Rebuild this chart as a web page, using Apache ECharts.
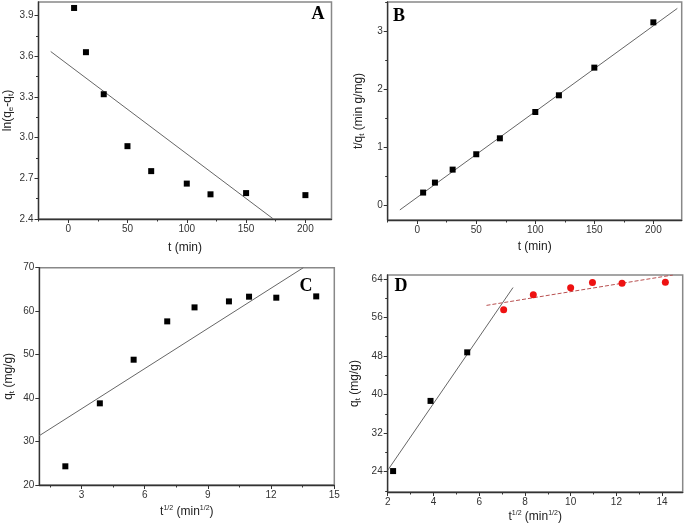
<!DOCTYPE html>
<html><head><meta charset="utf-8">
<script src="https://cdn.jsdelivr.net/npm/echarts@6/dist/echarts.min.js"></script>
<style>html,body{margin:0;padding:0;background:#fff}#c{width:685px;height:524px}</style>
</head><body><div id="c"></div>
<script>
// ---- Data ----
const timeMin = [5, 15, 30, 50, 70, 100, 120, 150, 200];
const lnQeQt = [3.956, 3.63, 3.32, 2.937, 2.753, 2.661, 2.582, 2.591, 2.576];
const fitA = [[-14.7, 3.635], [173, 2.4]];
const tOverQt = [0.213, 0.385, 0.609, 0.874, 1.149, 1.603, 1.891, 2.368, 3.149];
const fitB = [[-14.7, -0.086], [220.3, 3.39]];
const sqrtTime = [2.236, 3.873, 5.477, 7.071, 8.367, 10, 10.954, 12.247, 14.142];
const qtC = [24.3, 38.79, 48.83, 57.65, 60.87, 62.25, 63.33, 63.1, 63.4];
const fitC = [[1, 31.35], [13.53, 70]];
const sqrtTimeD1 = [2.236, 3.873, 5.477];
const qtD1 = [24.14, 38.69, 48.76];
const sqrtTimeD2 = [7.071, 8.367, 10, 10.954, 12.247, 14.142];
const qtD2 = [57.59, 60.69, 62.14, 63.24, 63.1, 63.31];
const fitD1 = [[2, 24.3], [7.48, 62.2]];
const fitD2 = [[6.32, 58.5], [14.47, 64.8]];

const ticksAx = [0, 50, 100, 150, 200], minorAx = [-25, 25, 75, 125, 175];
const ticksAy = [2.4, 2.7, 3.0, 3.3, 3.6, 3.9], minorAy = [2.55, 2.85, 3.15, 3.45, 3.75];
const ticksBx = [0, 50, 100, 150, 200], minorBx = [-25, 25, 75, 125, 175, 225];
const ticksBy = [0, 1, 2, 3], minorBy = [0.5, 1.5, 2.5, 3.5];
const ticksCx = [3, 6, 9, 12, 15], minorCx = [1.5, 4.5, 7.5, 10.5, 13.5];
const ticksCy = [20, 30, 40, 50, 60, 70], minorCy = [];
const ticksDx = [2, 4, 6, 8, 10, 12, 14], minorDx = [3, 5, 7, 9, 11, 13];
const ticksDy = [24, 32, 40, 48, 56, 64], minorDy = [20, 28, 36, 44, 52, 60];

const zip = (a, b) => a.map((v, i) => [v, b[i]]);

const FONT = 'Liberation Sans';
const richName = {
  a: {fontSize: 12, color: '#222', fontFamily: FONT},
  s: {fontSize: 8, color: '#222', fontFamily: FONT, padding: [6, 0, 0, 0]},
  p: {fontSize: 7, color: '#222', fontFamily: FONT, padding: [0, 0, 7, 0]}
};

function axes(dim, gi, min, max, majors, minors, dec, name, gap) {
  const pos = dim === 'x' ? 'bottom' : 'left';
  const main = {
    type: 'value', gridIndex: gi, position: pos, min: min, max: max,
    axisLine: {show: true, onZero: false, lineStyle: {color: '#333', width: 1.3}},
    axisTick: {show: true, inside: false, length: 4, customValues: majors, lineStyle: {color: '#333', width: 1}},
    axisLabel: {customValues: majors, formatter: v => Number(v).toFixed(dec), fontSize: 10, color: '#333', fontFamily: FONT, margin: 5},
    splitLine: {show: false},
    name: name, nameLocation: 'middle', nameGap: gap,
    nameTextStyle: {fontSize: 12, color: '#222', fontFamily: FONT, rich: richName}
  };
  const minor = {
    type: 'value', gridIndex: gi, position: pos, min: min, max: max,
    axisLine: {show: false, onZero: false},
    axisTick: {show: true, inside: false, length: 2.5, customValues: minors, lineStyle: {color: '#333', width: 1}},
    axisLabel: {show: false}, splitLine: {show: false}
  };
  return [main, minor];
}

const xAxis = [].concat(
  axes('x', 0, -25, 222, ticksAx, minorAx, 0, 't (min)', 23),
  axes('x', 1, -25, 224, ticksBx, minorBx, 0, 't (min)', 21),
  axes('x', 2, 1, 15, ticksCx, minorCx, 0, '{a|t}{p|1/2}{a| (min}{p|1/2}{a|)}', 20),
  axes('x', 3, 2, 14.9, ticksDx, minorDx, 0, '{a|t}{p|1/2}{a| (min}{p|1/2}{a|)}', 18)
);
const yAxis = [].concat(
  axes('y', 0, 2.4, 4.0, ticksAy, minorAy, 1, '{a|ln(q}{s|e}{a|-q}{s|t}{a|)}', 24),
  axes('y', 1, -0.26, 3.5, ticksBy, minorBy, 0, '{a|t/q}{s|t}{a| (min g/mg)}', 22),
  axes('y', 2, 20, 70, ticksCy, minorCy, 0, '{a|q}{s|t}{a| (mg/g)}', 24),
  axes('y', 3, 19.8, 64.8, ticksDy, minorDy, 0, '{a|q}{s|t}{a| (mg/g)}', 26)
);

const sq = (gi, data) => ({type: 'scatter', xAxisIndex: gi * 2, yAxisIndex: gi * 2, data: data, symbol: 'rect', symbolSize: 6, itemStyle: {color: '#000', opacity: 1}, z: 5});
const ln = (gi, data, color, type) => ({type: 'line', xAxisIndex: gi * 2, yAxisIndex: gi * 2, data: data, symbol: 'none', lineStyle: {color: color, width: 1, type: type || 'solid'}, z: 3});

const series = [
  sq(0, zip(timeMin, lnQeQt)), ln(0, fitA, '#666'),
  sq(1, zip(timeMin, tOverQt)), ln(1, fitB, '#666'),
  sq(2, zip(sqrtTime, qtC)), ln(2, fitC, '#666'),
  sq(3, zip(sqrtTimeD1, qtD1)), ln(3, fitD1, '#666'),
  {type: 'scatter', xAxisIndex: 6, yAxisIndex: 6, data: zip(sqrtTimeD2, qtD2), symbol: 'circle', symbolSize: 7, itemStyle: {color: '#ee1111', opacity: 1}, z: 5},
  ln(3, fitD2, '#b85050', [4, 2])
];

const gridStyle = {show: true, borderColor: '#888', borderWidth: 1.5, backgroundColor: 'transparent'};
const letter = (t, x, y) => ({type: 'text', x: x, y: y, style: {text: t, font: 'bold 18px "Liberation Serif"', fill: '#000', textAlign: 'center', textVerticalAlign: 'middle'}});

const chart = echarts.init(document.getElementById('c'), null, {renderer: 'canvas'});
chart.setOption({
  animation: false,
  backgroundColor: '#fff',
  grid: [
    Object.assign({left: 38.5, top: 2, width: 293, height: 217}, gridStyle),
    Object.assign({left: 387.7, top: 2, width: 294, height: 218}, gridStyle),
    Object.assign({left: 39.3, top: 267.7, width: 295, height: 217.3}, gridStyle),
    Object.assign({left: 387.7, top: 275, width: 295, height: 217.7}, gridStyle)
  ],
  xAxis: xAxis, yAxis: yAxis, series: series,
  graphic: [letter('A', 318, 14), letter('B', 399, 16), letter('C', 306, 286), letter('D', 401, 286)]
});
</script></body></html>
